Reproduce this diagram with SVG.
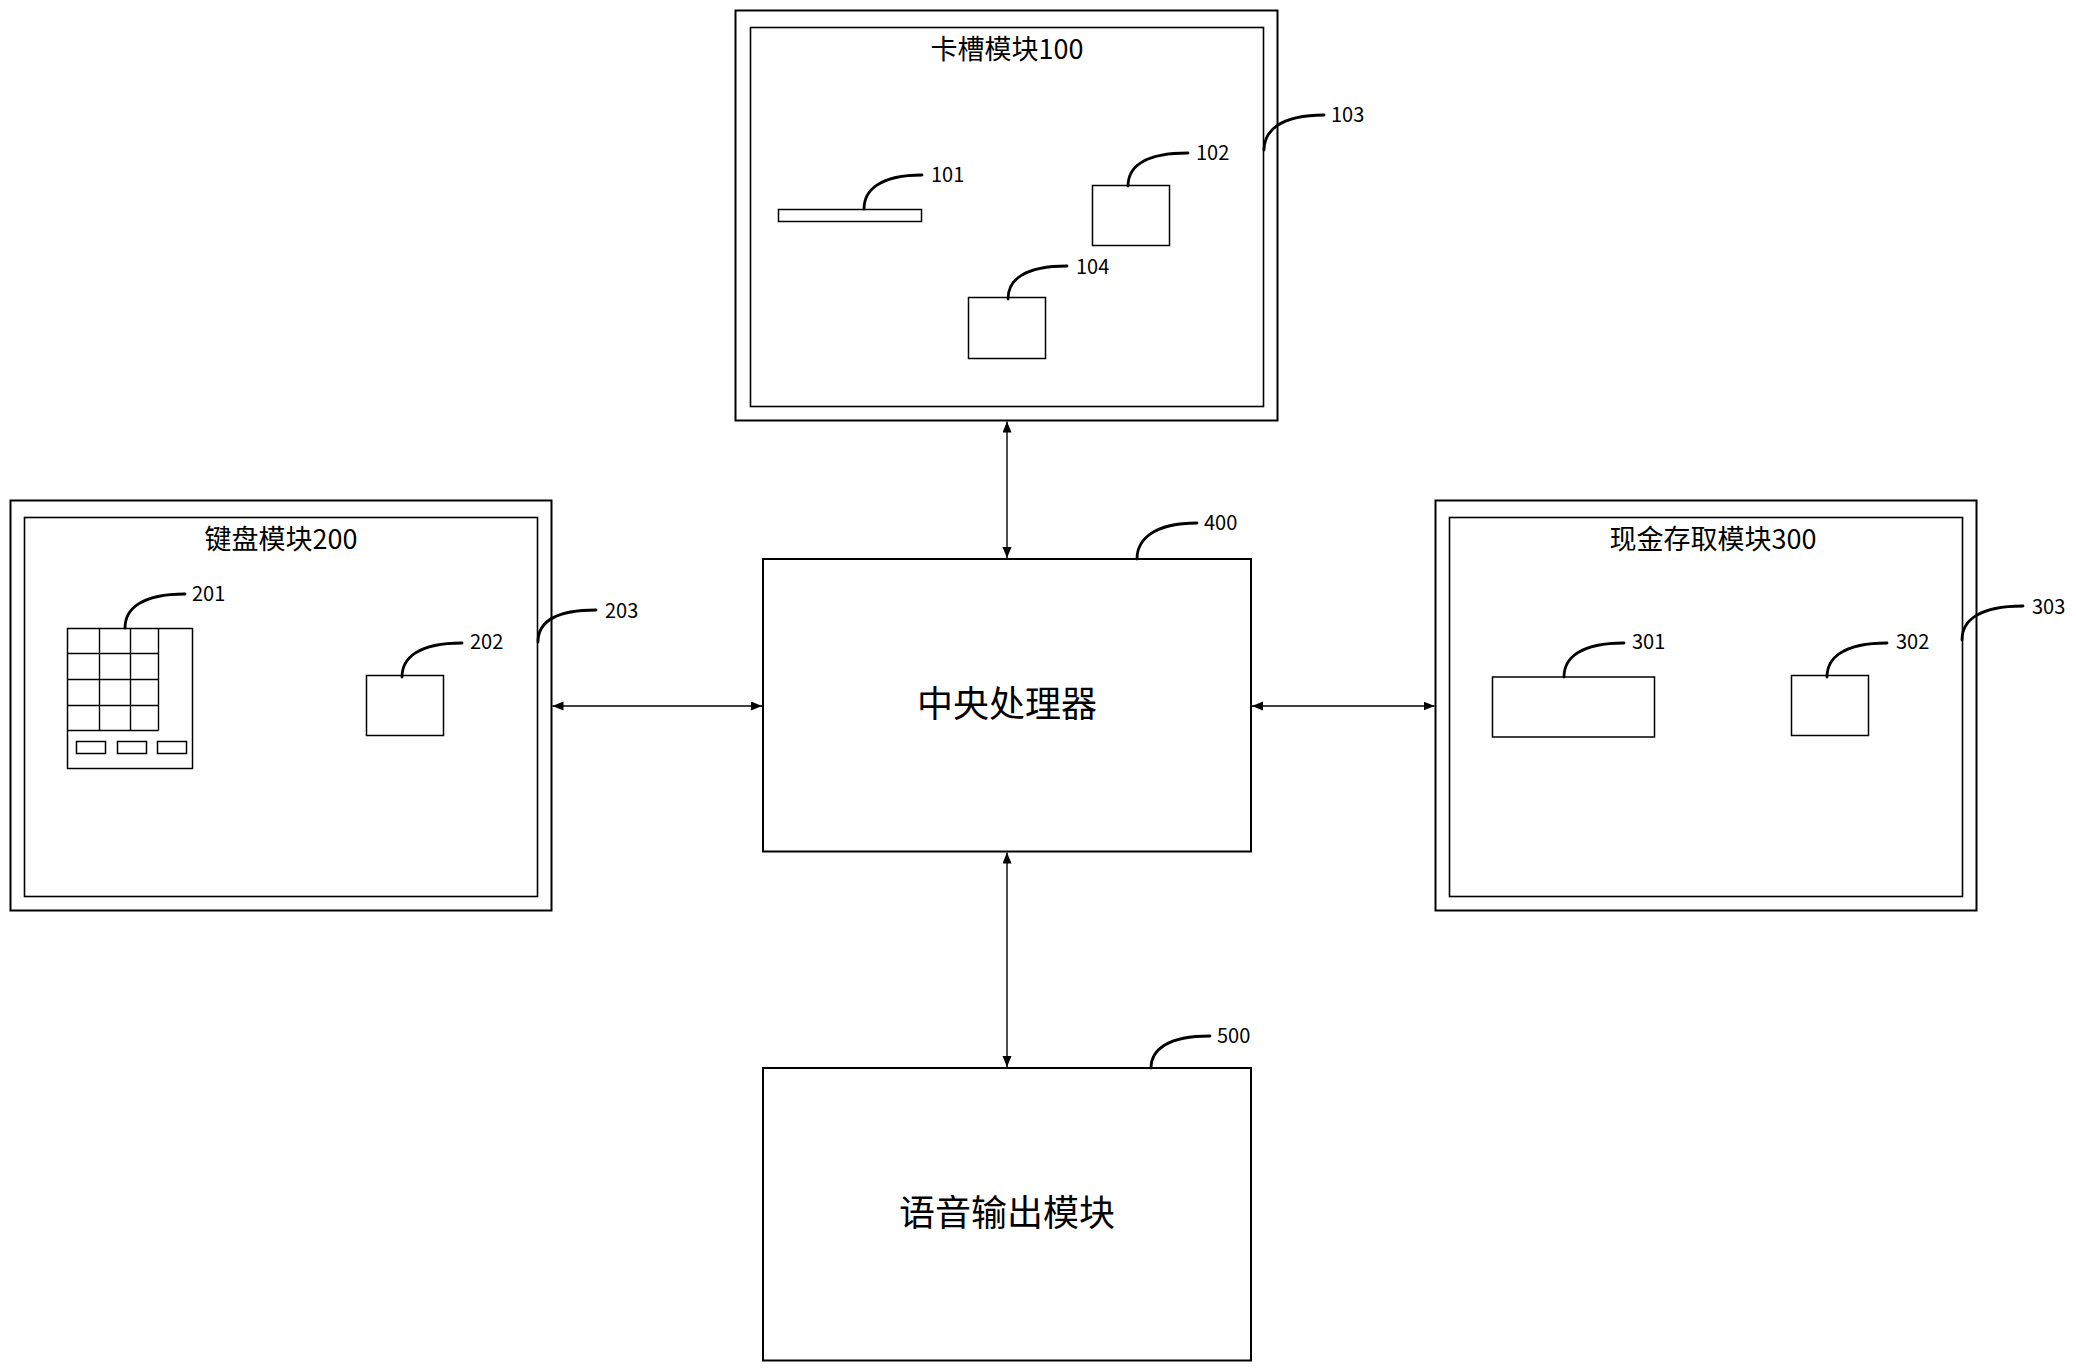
<svg xmlns="http://www.w3.org/2000/svg" width="2076" height="1372" viewBox="0 0 2076 1372">
<style>
.bg{fill:#fff}
.outer{fill:#fff;stroke:#000;stroke-width:2}
.inner{fill:none;stroke:#000;stroke-width:1.6}
.part{fill:#fff;stroke:#000;stroke-width:1.5}
.grid{fill:none;stroke:#000;stroke-width:1.4}
.lead{fill:none;stroke:#000;stroke-width:2.8;stroke-linecap:round}
.conn{fill:none;stroke:#000;stroke-width:1.4;marker-start:url(#ah);marker-end:url(#ah)}
.title{font-family:"Noto Sans CJK SC","Noto Sans",sans-serif;font-size:27px;fill:#000;text-anchor:middle}
.big{font-family:"Noto Sans CJK SC","Noto Sans",sans-serif;font-size:36px;fill:#000;text-anchor:middle}
.num{font-family:"Noto Sans CJK SC","Noto Sans",sans-serif;font-size:20px;fill:#000}
</style>
<defs>
<marker id="ah" markerUnits="userSpaceOnUse" markerWidth="12" markerHeight="10" refX="11" refY="4.5" orient="auto-start-reverse">
<path d="M0,0 L11,4.5 L0,9 z" fill="#000"/>
</marker>
</defs>
<rect class="bg" x="0" y="0" width="2076" height="1372"/>

<g id="card-slot-module-100">
<rect class="outer" x="735.5" y="10.5" width="542" height="410"/>
<rect class="inner" x="750.5" y="27.5" width="513" height="379"/>
<text class="title" x="1007" y="59">卡槽模块100</text>
<rect class="part" x="778.5" y="209.5" width="143" height="12"/>
<path class="lead" d="M864,209 C864,190 880,175 922,175"/>
<text class="num" x="931" y="182">101</text>
<rect class="part" x="1092.5" y="185.5" width="77" height="60"/>
<path class="lead" d="M1128,186 C1128,167 1144,153 1188,153"/>
<text class="num" x="1196" y="160">102</text>
<rect class="part" x="968.5" y="297.5" width="77" height="61"/>
<path class="lead" d="M1008,299 C1008,280 1024,266 1067,266"/>
<text class="num" x="1076" y="274">104</text>
<path class="lead" d="M1264,150 C1264,131 1280,115 1324,115"/>
<text class="num" x="1331" y="122">103</text>
</g>

<g id="keyboard-module-200">
<rect class="outer" x="10.5" y="500.5" width="541" height="410"/>
<rect class="inner" x="24.5" y="517.5" width="513" height="379"/>
<text class="title" x="281" y="549">键盘模块200</text>
<rect class="part" x="67.5" y="628.5" width="125" height="140"/>
<path class="grid" d="M67.5,653.5 H158.5 M67.5,679.5 H158.5 M67.5,705.5 H158.5 M67.5,730.5 H158.5 M99.5,628.5 V730.5 M130.5,628.5 V730.5 M158.5,628.5 V730.5"/>
<rect class="part" x="76.5" y="741.5" width="29" height="12" stroke-width="2"/>
<rect class="part" x="117.5" y="741.5" width="29" height="12" stroke-width="2"/>
<rect class="part" x="157.5" y="741.5" width="29" height="12" stroke-width="2"/>
<path class="lead" d="M125,628 C125,609 141,594 185,594"/>
<text class="num" x="192" y="601">201</text>
<rect class="part" x="366.5" y="675.5" width="77" height="60"/>
<path class="lead" d="M402,677 C402,658 418,643 462,643"/>
<text class="num" x="470" y="649">202</text>
<path class="lead" d="M538,642 C538,623 553,610 596,610"/>
<text class="num" x="605" y="618">203</text>
</g>

<g id="cash-module-300">
<rect class="outer" x="1435.5" y="500.5" width="541" height="410"/>
<rect class="inner" x="1449.5" y="517.5" width="513" height="379"/>
<text class="title" x="1713" y="549">现金存取模块300</text>
<rect class="part" x="1492.5" y="677" width="162" height="60" stroke-width="2"/>
<path class="lead" d="M1564,677 C1564,658 1580,643 1624,643"/>
<text class="num" x="1632" y="649">301</text>
<rect class="part" x="1791.5" y="675.5" width="77" height="60"/>
<path class="lead" d="M1827,677 C1827,658 1843,643 1887,643"/>
<text class="num" x="1896" y="649">302</text>
<path class="lead" d="M1962,640 C1962,621 1978,606 2023,606"/>
<text class="num" x="2032" y="614">303</text>
</g>

<g id="cpu-400">
<rect class="outer" x="763" y="559" width="488" height="292.5"/>
<text class="big" x="1007" y="717">中央处理器</text>
<path class="lead" d="M1137,559 C1137,540 1153,523 1197,523"/>
<text class="num" x="1204" y="530">400</text>
</g>

<g id="voice-output-500">
<rect class="outer" x="763" y="1068" width="488" height="292.5"/>
<text class="big" x="1007" y="1226">语音输出模块</text>
<path class="lead" d="M1151,1068 C1151,1050 1167,1036 1210,1036"/>
<text class="num" x="1217" y="1043">500</text>
</g>

<g id="connectors">
<line class="conn" x1="1007" y1="421.5" x2="1007" y2="558"/>
<line class="conn" x1="552.5" y1="706" x2="762" y2="706"/>
<line class="conn" x1="1252" y1="706" x2="1434.5" y2="706"/>
<line class="conn" x1="1007" y1="852.5" x2="1007" y2="1067"/>
</g>
</svg>
